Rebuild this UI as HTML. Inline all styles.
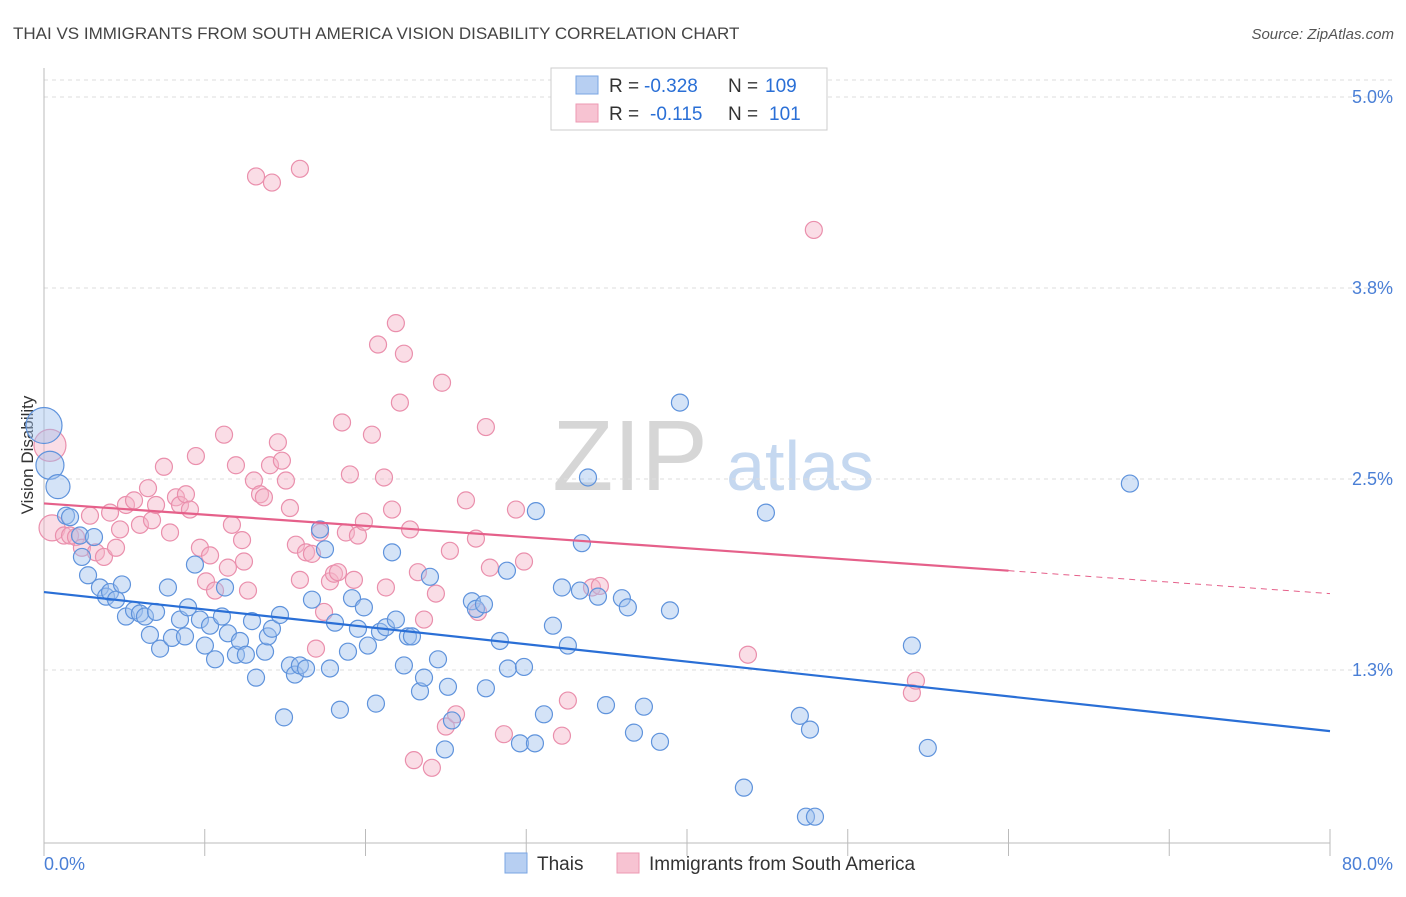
<!DOCTYPE html>
<html><head><meta charset="utf-8"><style>
body{margin:0;background:#fff;font-family:"Liberation Sans",sans-serif}
svg text{font-family:"Liberation Sans",sans-serif}
</style></head><body>
<svg id="chart" width="1406" height="892" xmlns="http://www.w3.org/2000/svg">
<text x="13" y="39" font-size="17" fill="#444">THAI VS IMMIGRANTS FROM SOUTH AMERICA VISION DISABILITY CORRELATION CHART</text>
<text x="1394" y="39" font-size="15" fill="#555" text-anchor="end" font-style="italic">Source: ZipAtlas.com</text>
<g>
<text x="630" y="490" font-size="100" fill="#d6d6d6" text-anchor="middle" font-family="Liberation Serif,serif">ZIP</text>
<text x="800" y="490" font-size="70" fill="#c5d8f0" text-anchor="middle">atlas</text>
</g>
<g id="grid"></g>
<line x1="44" y1="68" x2="44" y2="843" stroke="#bbb"/>
<line x1="44" y1="843" x2="1330" y2="843" stroke="#bbb"/>
<g id="xticks"></g>
<g id="ylabels"></g>
<text x="44" y="870" font-size="18" fill="#4a7fd6">0.0%</text>
<text x="1393" y="870" font-size="18" fill="#4a7fd6" text-anchor="end">80.0%</text>
<text transform="translate(33,455) rotate(-90)" font-size="17" fill="#333" text-anchor="middle">Vision Disability</text>
<g id="pinkPts"></g>
<g id="bluePts"></g>
<g id="lines"></g>
<g>
<rect x="551" y="68" width="276" height="62" fill="#fff" stroke="#ccc"/>
<rect x="576" y="76" width="22" height="18" fill="#b7cff2" stroke="#7aa5e3"/>
<rect x="576" y="104" width="22" height="18" fill="#f7c3d2" stroke="#ec9ab3"/>
<text x="609" y="92" font-size="19" fill="#333">R =</text>
<text x="644" y="92" font-size="19" fill="#2a6fd6">-0.328</text>
<text x="728" y="92" font-size="19" fill="#333">N =</text>
<text x="765" y="92" font-size="19" fill="#2a6fd6">109</text>
<text x="609" y="120" font-size="19" fill="#333">R =</text>
<text x="650" y="120" font-size="19" fill="#2a6fd6">-0.115</text>
<text x="728" y="120" font-size="19" fill="#333">N =</text>
<text x="769" y="120" font-size="19" fill="#2a6fd6">101</text>
</g>
<g>
<rect x="505" y="853" width="22" height="20" fill="#b7cff2" stroke="#7aa5e3"/>
<text x="537" y="870" font-size="19" fill="#333">Thais</text>
<rect x="617" y="853" width="22" height="20" fill="#f7c3d2" stroke="#ec9ab3"/>
<text x="649" y="870" font-size="19" fill="#333">Immigrants from South America</text>
</g>
</svg>
<script>
const yTicks=[5.0,3.75,2.5,1.25];
const yTickLabels=["5.0%","3.8%","2.5%","1.3%"];
const xTicks=[0,10,20,30,40,50,60,70,80];
const blueX=[0,.37,.87,1.37,1.62,2.24,2.36,2.74,3.11,3.48,3.86,4.11,4.48,4.85,5.10,5.60,5.97,6.28,6.59,6.97,7.22,7.71,7.96,8.46,8.77,8.96,9.39,9.70,10.01,10.33,10.64,11.07,11.26,11.44,11.94,12.19,12.56,12.94,13.19,13.75,13.93,14.18,14.68,14.93,15.30,15.61,15.92,16.30,16.67,17.17,17.48,17.79,18.10,18.41,18.91,19.16,19.53,19.90,20.15,20.65,20.90,21.27,21.65,21.89,22.39,22.64,22.89,23.39,23.64,24.01,24.51,24.94,25.13,25.38,26.62,26.87,27.37,27.49,28.36,28.80,28.86,29.61,29.86,30.54,30.60,31.10,31.66,32.22,32.59,33.34,33.46,33.84,34.46,34.96,35.95,36.32,36.70,37.32,38.32,38.94,39.56,43.54,44.91,47.02,47.40,47.65,47.96,53.99,54.98,67.55];
const blueY=[2.85,2.59,2.45,2.26,2.25,2.13,1.99,1.87,2.12,1.79,1.73,1.76,1.71,1.81,1.60,1.64,1.62,1.60,1.48,1.63,1.39,1.79,1.46,1.58,1.47,1.66,1.94,1.58,1.41,1.54,1.32,1.60,1.79,1.49,1.35,1.44,1.35,1.57,1.20,1.37,1.47,1.52,1.61,0.94,1.28,1.22,1.28,1.26,1.71,2.17,2.04,1.26,1.56,0.99,1.37,1.72,1.52,1.66,1.41,1.03,1.50,1.53,2.02,1.58,1.28,1.47,1.47,1.11,1.20,1.86,1.32,0.73,1.14,0.92,1.70,1.65,1.68,1.13,1.44,1.90,1.26,0.77,1.27,0.77,2.29,0.96,1.54,1.79,1.41,1.77,2.08,2.51,1.73,1.02,1.72,1.66,0.84,1.01,0.78,1.64,3.00,0.48,2.28,0.95,0.29,0.86,0.29,1.41,0.74,2.47];
const pinkX=[.37,.50,1.24,1.62,1.99,2.36,2.86,3.23,3.73,4.11,4.48,4.73,5.10,5.60,5.97,6.47,6.72,6.97,7.46,7.84,8.21,8.46,8.83,9.08,9.45,9.70,10.08,10.33,10.64,11.20,11.44,11.69,11.94,12.32,12.44,12.69,13.06,13.44,13.68,14.06,14.55,14.80,15.05,15.30,15.67,15.92,16.30,16.67,16.92,17.17,17.42,17.79,18.04,18.29,18.54,18.78,19.03,19.28,19.53,19.90,20.40,20.78,21.15,21.27,21.65,21.89,22.14,22.39,22.77,23.01,23.26,23.64,24.13,24.38,24.76,25.00,25.25,25.63,26.25,26.87,27.00,27.49,27.74,28.61,29.36,29.86,32.22,32.59,34.09,34.58,43.79,47.89,53.99,54.24,13.19,14.18,15.92];
const pinkY=[2.72,2.18,2.13,2.13,2.12,2.05,2.26,2.02,1.99,2.28,2.05,2.17,2.33,2.36,2.20,2.44,2.23,2.33,2.58,2.15,2.38,2.33,2.40,2.30,2.65,2.05,1.83,2.00,1.77,2.79,1.92,2.20,2.59,2.10,1.96,1.77,2.49,2.40,2.38,2.59,2.74,2.62,2.49,2.31,2.07,1.84,2.02,2.01,1.39,2.15,1.63,1.83,1.88,1.89,2.87,2.15,2.53,1.84,2.13,2.22,2.79,3.38,2.51,1.79,2.30,3.52,3.00,3.32,2.17,0.66,1.89,1.58,0.61,1.75,3.13,0.88,2.03,0.96,2.36,2.11,1.63,2.84,1.92,0.83,2.30,1.96,0.82,1.05,1.79,1.80,1.35,4.13,1.10,1.18,4.48,4.44,4.53];
const blueTrend=[[0,1.76],[80,0.85]];
const pinkTrendSolid=[[0,2.34],[60,1.90]];
const pinkTrendDash=[[60,1.90],[80,1.75]];
const sx=v=>44+v*16.075;
const sy=v=>97+(5-v)*152.8;
const NS="http://www.w3.org/2000/svg";
function mk(tag,parent,attrs){const e=document.createElementNS(NS,tag);for(const k in attrs)e.setAttribute(k,attrs[k]);document.getElementById(parent).appendChild(e);return e;}
yTicks.forEach((t,i)=>{
 const l=mk('line','grid',{x1:44,x2:1393,y1:sy(t),y2:sy(t),stroke:'#ddd','stroke-dasharray':'4,4'});
 
 
 const tx=mk('text','ylabels',{x:1393,y:sy(t)+6,'font-size':18,fill:'#4a7fd6','text-anchor':'end'});
 tx.textContent=yTickLabels[i];
 
 
});
const topGrid=mk('line','grid',{x1:44,x2:1393,y1:80,y2:80,stroke:'#ddd','stroke-dasharray':'4,4'});


xTicks.forEach(t=>{
 const l=mk('line','xticks',{x1:sx(t),x2:sx(t),y1:829,y2:856,stroke:'#bbb'});
 
 
});
function pts(X,Y,g,fill,stroke,big,name){
 X.forEach((x,i)=>{
  const r=big[i]||8.5;
  const c=mk('circle',g,{cx:sx(x),cy:sy(Y[i]),r:r,fill:fill,'fill-opacity':0.45,stroke:stroke,'stroke-width':1.2});
  
  
 });
}
pts(pinkX,pinkY,'pinkPts','#f4b3c8','#ea8fac',{0:16,1:13},'immigrant-point');
pts(blueX,blueY,'bluePts','#9fc0ee','#5f93dc',{0:18,1:14,2:12},'thai-point');
function line(p,color,dash,name){
 const l=mk('line','lines',{x1:sx(p[0][0]),y1:sy(p[0][1]),x2:sx(p[1][0]),y2:sy(p[1][1]),stroke:color,'stroke-width':dash?1:2.2});
 if(dash)l.setAttribute('stroke-dasharray','6,5');
 
 
}
line(blueTrend,'#2a6fd6',false,'thai-trend-line');
line(pinkTrendSolid,'#e5608a',false,'immigrant-trend-line');
line(pinkTrendDash,'#e5608a',true,'immigrant-trend-extension');
</script>
</body></html>
